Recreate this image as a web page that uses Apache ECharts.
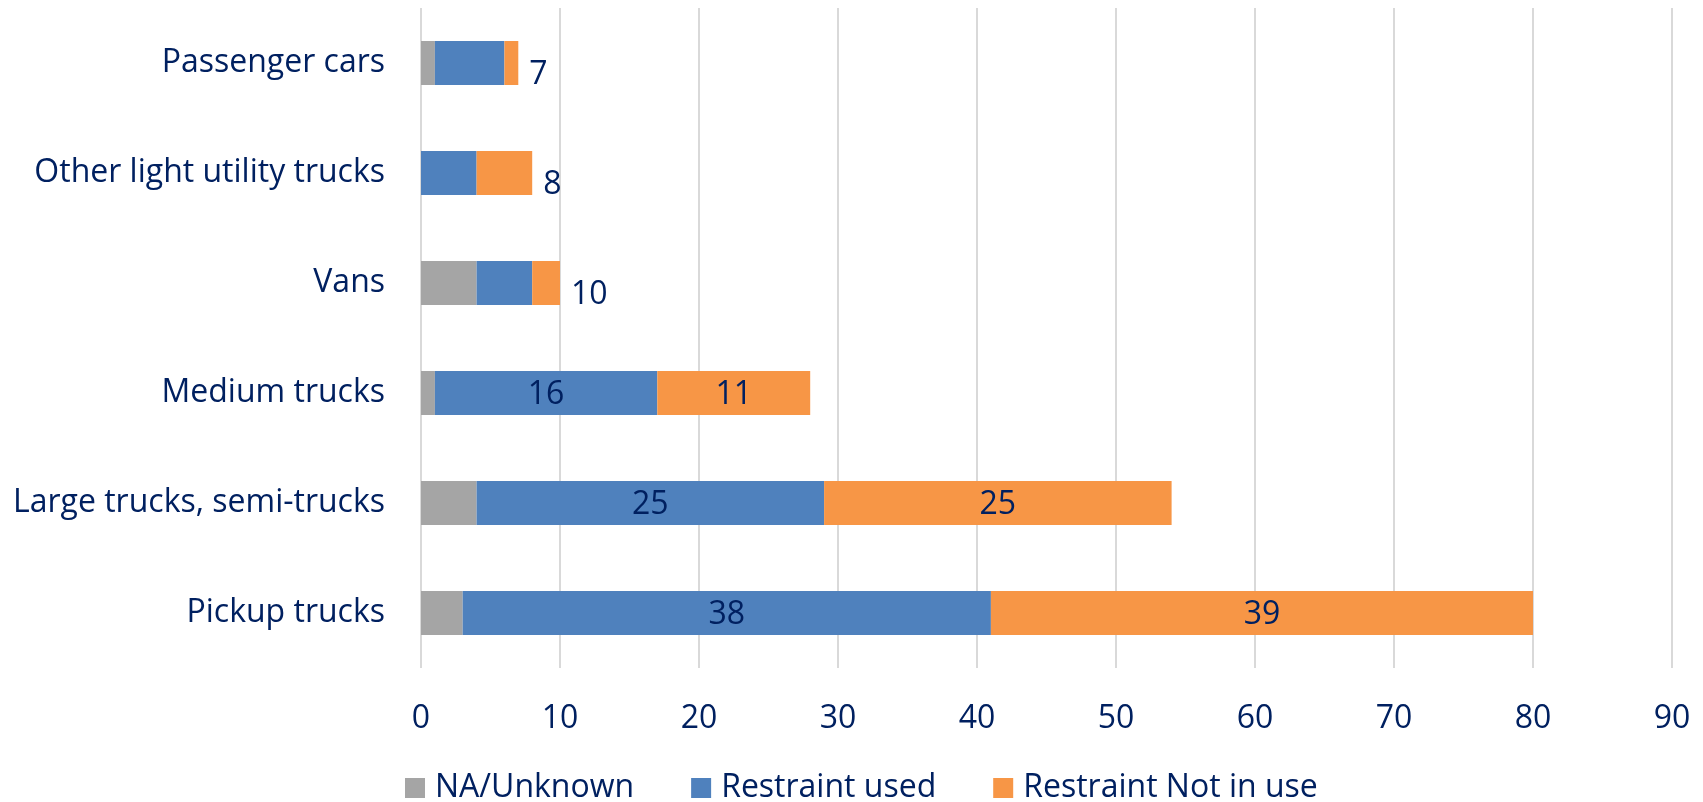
<!DOCTYPE html>
<html>
<head>
<meta charset="utf-8">
<title>Occupant restraint use by vehicle type</title>
<script src="https://cdn.jsdelivr.net/npm/echarts@6/dist/echarts.min.js"></script>
<style>
  html, body { margin: 0; padding: 0; background: #ffffff; }
  #chart { width: 1703px; height: 802px; }
</style>
</head>
<body>
<div id="chart"></div>
<script>
// Vehicle types, listed top to bottom as drawn
const categories = [
  'Passenger cars',
  'Other light utility trucks',
  'Vans',
  'Medium trucks',
  'Large trucks, semi-trucks',
  'Pickup trucks'
];

// Counts per restraint status
const naUnknown      = [1, 0, 4, 1, 4, 3];
const restraintUsed  = [5, 4, 4, 16, 25, 38];
const restraintNotIn = [1, 4, 2, 11, 25, 39];

// Rows whose short bars carry a single total label to the right
const showTotal = [true, true, true, false, false, false];

// Value axis ticks
const axisMin = 0;
const axisMax = 90;
const axisStep = 10;

const TEXT = '#002060';
const FONT = '"Open Sans", "Noto Sans", sans-serif';

const totals = categories.map((_, i) => naUnknown[i] + restraintUsed[i] + restraintNotIn[i]);

const chart = echarts.init(document.getElementById('chart'), null, { renderer: 'canvas' });

const labelStyle = { color: TEXT, fontFamily: FONT, fontSize: 32 };

chart.setOption({
  animation: false,
  textStyle: { fontFamily: FONT, color: TEXT },
  grid: { left: 421, right: 31, top: 8, bottom: 134, containLabel: false },
  legend: {
    left: 400,
    top: 767,
    itemWidth: 20,
    itemHeight: 20,
    itemGap: 57,
    icon: 'rect',
    textStyle: { color: TEXT, fontFamily: FONT, fontSize: 32, padding: [0, 0, 0, 5] },
    data: ['NA/Unknown', 'Restraint used', 'Restraint Not in use']
  },
  xAxis: {
    type: 'value',
    min: axisMin,
    max: axisMax,
    interval: axisStep,
    axisLine: { show: false },
    axisTick: { show: false },
    splitLine: { show: true, lineStyle: { color: '#d9d9d9', width: 2 } },
    axisLabel: { color: TEXT, fontFamily: FONT, fontSize: 32, margin: 35 }
  },
  yAxis: {
    type: 'category',
    inverse: true,
    data: categories,
    axisLine: { show: false },
    axisTick: { show: false },
    splitLine: { show: false },
    axisLabel: { color: TEXT, fontFamily: FONT, fontSize: 32, margin: 36, padding: [4, 0, 0, 0] }
  },
  series: [
    {
      name: 'NA/Unknown',
      type: 'bar',
      stack: 'total',
      barCategoryGap: '60%',
      itemStyle: { color: '#a5a5a5' },
      data: naUnknown
    },
    {
      name: 'Restraint used',
      type: 'bar',
      stack: 'total',
      barCategoryGap: '60%',
      itemStyle: { color: '#4f81bd' },
      data: restraintUsed.map((v, i) => ({
        value: v,
        label: { show: !showTotal[i], position: 'inside', offset: [0, 2], ...labelStyle }
      }))
    },
    {
      name: 'Restraint Not in use',
      type: 'bar',
      stack: 'total',
      barCategoryGap: '60%',
      itemStyle: { color: '#f79646' },
      data: restraintNotIn.map((v, i) => ({
        value: v,
        label: showTotal[i]
          ? { show: true, position: 'right', distance: 11, offset: [0, 12], formatter: String(totals[i]), ...labelStyle }
          : { show: true, position: 'inside', offset: [0, 2], ...labelStyle }
      }))
    }
  ]
});
</script>
</body>
</html>
